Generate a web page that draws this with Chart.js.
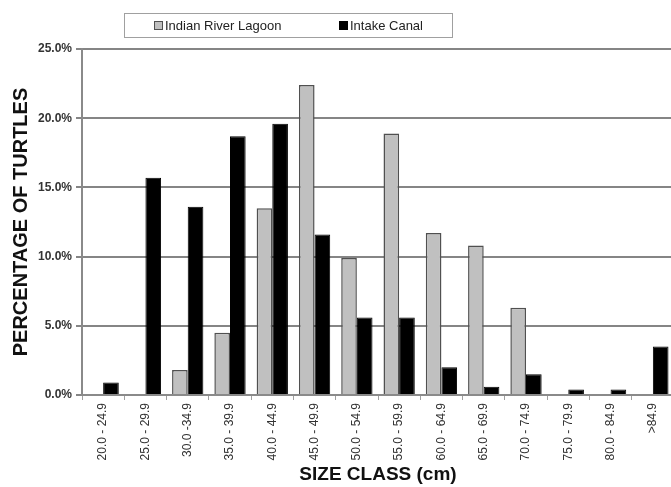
<!DOCTYPE html>
<html>
<head>
<meta charset="utf-8">
<script src="https://cdn.jsdelivr.net/npm/chart.js@4/dist/chart.umd.min.js"></script>
<style>
  html, body { margin: 0; padding: 0; background: #fff; overflow: hidden; }
  #wrap { position: absolute; left: 0; top: 0; width: 676px; height: 487px; }
</style>
</head>
<body>
<div id="wrap"><canvas id="turtleChart"></canvas></div>
<script>
// Size classes (cm) and percentage of turtles per class
const sizeClasses = ['20.0 - 24.9', '25.0 - 29.9', '30.0 -34.9', '35.0 - 39.9', '40.0 - 44.9', '45.0 - 49.9',
  '50.0 - 54.9', '55.0 - 59.9', '60.0 - 64.9', '65.0 - 69.9', '70.0 - 74.9', '75.0 - 79.9', '80.0 - 84.9', '>84.9'];
const lagoonPct = [0, 0, 1.8, 4.5, 13.5, 22.4, 9.9, 18.9, 11.7, 10.8, 6.3, 0, 0, 0];
const canalPct = [0.9, 15.7, 13.6, 18.7, 19.6, 11.6, 5.6, 5.6, 2.0, 0.6, 1.5, 0.4, 0.4, 3.5];
const yTicks = [0, 5, 10, 15, 20, 25];

const FONT = '"Liberation Sans", Arial, sans-serif';

// legend in a box, drawn by hand because it is not centred on the plot
const boxLegend = {
  id: 'boxLegend',
  afterDraw(chart) {
    const ctx = chart.ctx;
    ctx.save();
    ctx.fillStyle = '#fff';
    ctx.fillRect(124.5, 13.5, 328, 24);
    ctx.strokeStyle = '#a0a0a0';
    ctx.lineWidth = 1;
    ctx.strokeRect(124.5, 13.5, 328, 24);
    const spots = [154, 339];
    ctx.font = '13px ' + FONT;
    ctx.textBaseline = 'middle';
    chart.data.datasets.forEach((ds, i) => {
      const x = spots[i];
      ctx.fillStyle = ds.backgroundColor;
      ctx.fillRect(x + 0.5, 21.5, 8, 8);
      ctx.strokeStyle = ds.borderColor;
      ctx.strokeRect(x + 0.5, 21.5, 8, 8);
      ctx.fillStyle = '#222';
      ctx.fillText(ds.label, x + 11, 26);
    });
    ctx.restore();
  }
};

const ctx = document.getElementById('turtleChart').getContext('2d');
new Chart(ctx, {
  type: 'bar',
  data: {
    labels: sizeClasses,
    datasets: [
      {
        label: 'Indian River Lagoon',
        data: lagoonPct,
        backgroundColor: '#c0c0c0',
        borderColor: '#505050',
        borderWidth: 1.5
      },
      {
        label: 'Intake Canal',
        data: canalPct,
        backgroundColor: '#000000',
        borderColor: '#000000',
        borderWidth: 1
      }
    ]
  },
  options: {
    responsive: true,
    maintainAspectRatio: false,
    animation: false,
    categoryPercentage: 0.74,
    barPercentage: 1.0,
    layout: { padding: { top: 49, right: 2, left: 0, bottom: 0 } },
    plugins: {
      legend: { display: false },
      tooltip: { enabled: false }
    },
    scales: {
      x: {
        afterFit: s => { s.height = 92; },
        grid: { offset: true, drawOnChartArea: false, tickLength: 5, color: '#a0a0a0', lineWidth: 1 },
        border: { color: '#8a8a8a', width: 2 },
        ticks: {
          autoSkip: false,
          minRotation: 90,
          maxRotation: 90,
          padding: 3,
          color: '#333',
          font: { family: FONT, size: 12 }
        },
        title: {
          display: true,
          text: 'SIZE CLASS (cm)',
          color: '#111',
          padding: { top: 0, bottom: 1 },
          font: { family: FONT, size: 19, weight: 'bold' }
        }
      },
      y: {
        min: 0,
        max: 25,
        afterFit: s => { s.width = 82; },
        afterBuildTicks: s => { s.ticks = yTicks.map(v => ({ value: v })); },
        grid: { color: '#858585', lineWidth: 2, tickLength: 6 },
        border: { color: '#8a8a8a', width: 2 },
        ticks: {
          padding: 4,
          color: '#333',
          font: { family: FONT, size: 12, weight: 'bold' },
          callback: v => v.toFixed(1) + '%'
        },
        title: {
          display: true,
          text: 'PERCENTAGE OF TURTLES',
          color: '#111',
          padding: { top: 9, bottom: 0 },
          font: { family: FONT, size: 20, weight: 'bold' }
        }
      }
    }
  },
  plugins: [boxLegend]
});
</script>
</body>
</html>
